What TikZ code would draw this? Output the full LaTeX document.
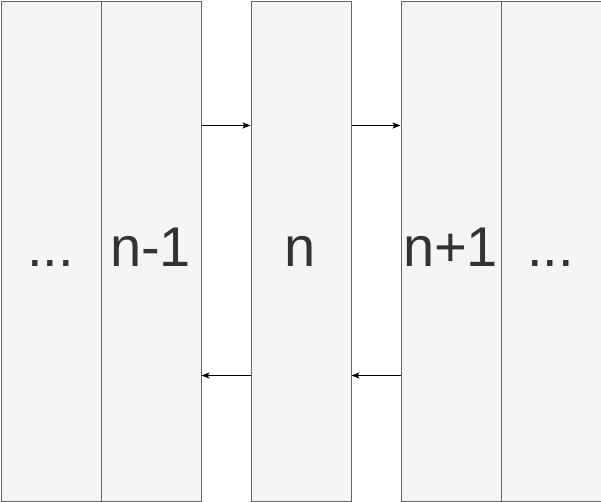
\documentclass[tikz,border=0pt]{standalone}
\usepackage{fontspec}
\setmainfont{Liberation Sans}
\usetikzlibrary{arrows.meta}
\definecolor{boxfill}{HTML}{F5F5F5}
\definecolor{boxline}{HTML}{666666}
\definecolor{txt}{HTML}{333333}
\tikzset{
  cell/.style={draw=boxline, fill=boxfill, line width=1pt, minimum width=100pt, minimum height=500pt, inner sep=0pt, anchor=north west},
  lbl/.style={text=txt, font=\fontsize{56}{60}\selectfont, anchor=base, inner sep=0pt},
  conn/.style={line width=1pt, -{Stealth[length=8pt,width=6pt,inset=2pt]}}
}
\begin{document}
\begin{tikzpicture}[x=1pt,y=-1pt]
\useasboundingbox (0,0) rectangle (601,501);
\node[cell] (c1) at (0.5,0.5) {};
\node[cell] (c2) at (100.5,0.5) {};
\node[cell] (c3) at (250.5,0.5) {};
\node[cell] (c4) at (400.5,0.5) {};
\node[cell] (c5) at (500.5,0.5) {};
\node[lbl] (t1) at (50.5,266) {...};
\node[lbl] (t2) at (150.5,266) {n-1};
\node[lbl] (t3) at (300.5,266) {n};
\node[lbl] (t4) at (450.5,266) {n+1};
\node[lbl] (t5) at (550.5,266) {...};
\draw[conn] (c2.north east) ++(0,125) coordinate (a1) (a1) -- (a1 -| c3.west);
\draw[conn] (c3.north east) ++(0,125) coordinate (a2) (a2) -- (a2 -| c4.west);
\draw[conn] (c3.north west) ++(0,375) coordinate (b1) (b1) -- (b1 -| c2.east);
\draw[conn] (c4.north west) ++(0,375) coordinate (b2) (b2) -- (b2 -| c3.east);
\end{tikzpicture}
\end{document}
